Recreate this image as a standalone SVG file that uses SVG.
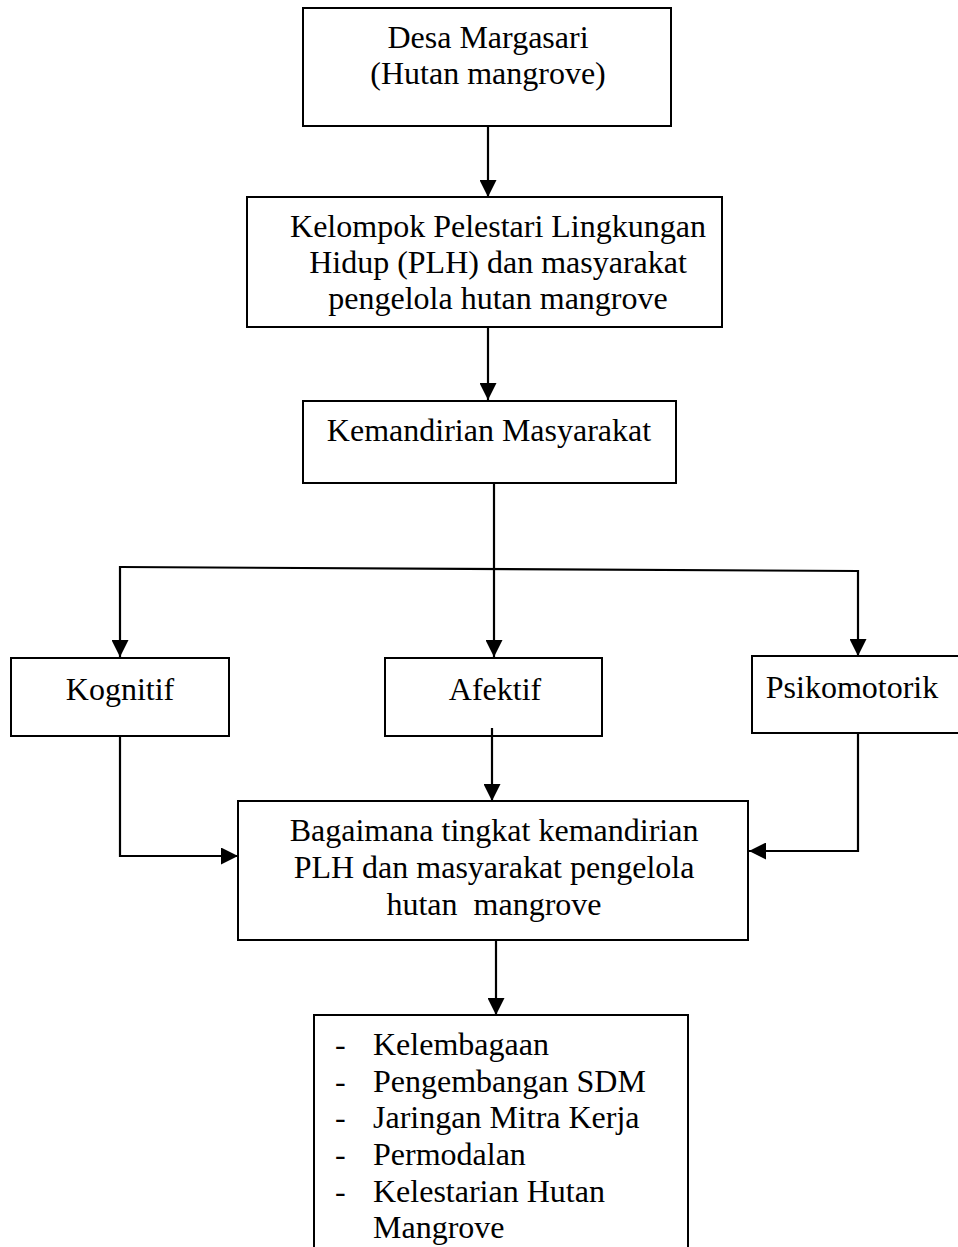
<svg xmlns="http://www.w3.org/2000/svg" width="958" height="1247" viewBox="0 0 958 1247">
<style>
.box{fill:#fff;stroke:#000;stroke-width:2}
.t{font-family:"Liberation Serif","Times New Roman",serif;font-size:32px;fill:#000}
.c{text-anchor:middle}
.ln{fill:none;stroke:#000;stroke-width:2.2}
</style>
<defs>
<marker id="ah" viewBox="0 0 10 10" refX="10" refY="5" markerWidth="17" markerHeight="17" markerUnits="userSpaceOnUse" orient="auto">
<path d="M0,0 L10,5 L0,10 Z" fill="#000"/>
</marker>
</defs>
<rect width="958" height="1247" fill="#fff"/>
<g id="n1">
<rect class="box" x="303" y="8" width="368" height="118"/>
<text class="t c" x="488" y="48">Desa Margasari</text>
<text class="t c" x="488" y="84">(Hutan mangrove)</text>
</g>
<g id="n2">
<rect class="box" x="247" y="197" width="475" height="130"/>
<text class="t c" x="498" y="237">Kelompok Pelestari Lingkungan</text>
<text class="t c" x="498" y="273">Hidup (PLH) dan masyarakat</text>
<text class="t c" x="498" y="309">pengelola hutan mangrove</text>
</g>
<g id="n3">
<rect class="box" x="303" y="401" width="373" height="82"/>
<text class="t c" x="489" y="441">Kemandirian Masyarakat</text>
</g>
<g id="n4">
<rect class="box" x="11" y="658" width="218" height="78"/>
<text class="t c" x="120" y="700">Kognitif</text>
</g>
<g id="n5">
<rect class="box" x="385" y="658" width="217" height="78"/>
<text class="t c" x="495" y="700">Afektif</text>
</g>
<g id="n6">
<rect class="box" x="752" y="656" width="210" height="77"/>
<text class="t c" x="852" y="698">Psikomotorik</text>
</g>
<g id="n7">
<rect class="box" x="238" y="801" width="510" height="139"/>
<text class="t c" x="494" y="841">Bagaimana tingkat kemandirian</text>
<text class="t c" x="494" y="878">PLH dan masyarakat pengelola</text>
<text class="t c" x="494" y="915" xml:space="preserve">hutan  mangrove</text>
</g>
<g id="n8">
<path class="box" d="M314,1250 L314,1015 L688,1015 L688,1250"/>
<text class="t" x="335" y="1055">-</text><text class="t" x="373" y="1055">Kelembagaan</text>
<text class="t" x="335" y="1092">-</text><text class="t" x="373" y="1092">Pengembangan SDM</text>
<text class="t" x="335" y="1128">-</text><text class="t" x="373" y="1128">Jaringan Mitra Kerja</text>
<text class="t" x="335" y="1165">-</text><text class="t" x="373" y="1165">Permodalan</text>
<text class="t" x="335" y="1202">-</text><text class="t" x="373" y="1202">Kelestarian Hutan</text>
<text class="t" x="373" y="1238">Mangrove</text>
</g>
<g id="connectors">
<line class="ln" x1="488" y1="126" x2="488" y2="197" marker-end="url(#ah)"/>
<line class="ln" x1="488" y1="327" x2="488" y2="400" marker-end="url(#ah)"/>
<line class="ln" x1="494" y1="483" x2="494" y2="657" marker-end="url(#ah)"/>
<line class="ln" x1="120" y1="567" x2="858" y2="571"/>
<line class="ln" x1="120" y1="566" x2="120" y2="657" marker-end="url(#ah)"/>
<line class="ln" x1="858" y1="570" x2="858" y2="656" marker-end="url(#ah)"/>
<line class="ln" x1="492" y1="728" x2="492" y2="801" marker-end="url(#ah)"/>
<polyline class="ln" points="120,736 120,856 238,856" marker-end="url(#ah)"/>
<polyline class="ln" points="858,733 858,851 749,851" marker-end="url(#ah)"/>
<line class="ln" x1="496" y1="940" x2="496" y2="1015" marker-end="url(#ah)"/>
</g>
</svg>
